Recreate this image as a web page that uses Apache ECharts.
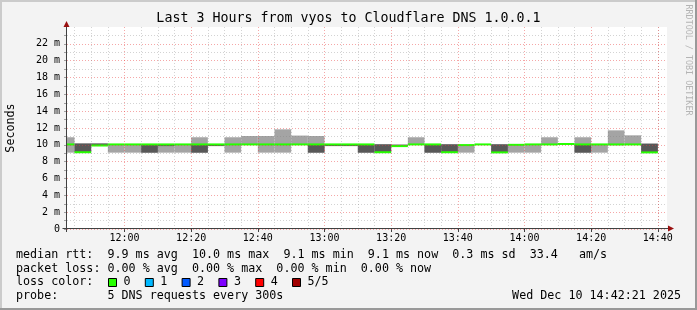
<!DOCTYPE html>
<html><head><meta charset="utf-8">
<script src="https://cdn.jsdelivr.net/npm/echarts@6/dist/echarts.min.js"></script>
<style>html,body{margin:0;padding:0;background:#f3f3f3}#c{width:697px;height:310px}</style>
</head><body><div id="c"></div>
<script>
// ---- data (5-minute bins, values in ms) ----
const binStarts = ['11:40','11:45','11:50','11:55','12:00','12:05','12:10','12:15','12:20','12:25','12:30','12:35',
  '12:40','12:45','12:50','12:55','13:00','13:05','13:10','13:15','13:20','13:25','13:30','13:35',
  '13:40','13:45','13:50','13:55','14:00','14:05','14:10','14:15','14:20','14:25','14:30','14:35'];
const smokeLow  = [9.07,9.12,9.92,9.07,9.07,9.07,9.07,9.07,9.07,9.97,9.07,10.0,9.07,9.07,10.0,9.07,9.95,9.95,
  9.07,9.12,9.85,10.0,9.07,9.12,9.07,null,9.1,9.07,9.07,10.0,null,9.07,9.07,9.94,10.0,9.1];
const smokeHigh = [10.9,10.2,10.16,10.05,10.05,10.05,10.05,10.05,10.9,10.05,10.9,11.05,11.05,11.84,11.1,11.05,10.05,10.05,
  10.05,10.1,10.02,10.9,10.05,10.1,10.0,null,10.1,9.97,9.97,10.9,null,10.9,10.0,11.72,11.13,10.2];
const coreLow   = [null,9.12,9.92,null,null,9.07,9.85,null,9.07,9.85,null,null,null,null,null,9.07,9.85,9.85,
  9.07,9.12,9.85,null,9.07,9.12,null,null,9.1,null,null,null,null,9.07,null,null,null,9.1];
const coreHigh  = [null,10.14,10.16,null,null,10.0,10.05,null,10.0,10.05,null,null,null,null,null,10.0,10.05,10.05,
  10.0,10.05,10.02,null,10.0,10.05,null,null,10.05,null,null,null,null,10.0,null,null,null,10.1];
const medianRtt = [10.05,9.12,9.92,10.05,10.05,10.05,10.05,10.05,10.05,10.05,10.05,10.05,10.05,10.05,10.05,10.05,10.05,10.05,
  10.05,9.12,9.85,10.05,10.05,9.12,9.97,10.05,9.1,10.0,10.05,10.05,10.1,10.05,10.05,10.05,10.05,9.1];
const binMinutes = 5;
const windowEnd = '14:42:45';
const windowHours = 3;
const xTickLabels = ['12:00','12:20','12:40','13:00','13:20','13:40','14:00','14:20','14:40'];
const xMinorLabels = ['11:45','11:50','11:55','12:05','12:10','12:15','12:25','12:30','12:35','12:45','12:50','12:55',
  '13:05','13:10','13:15','13:25','13:30','13:35','13:45','13:50','13:55','14:05','14:10','14:15','14:25','14:30','14:35','14:40'];
const yTickLabels = ['0','2 m','4 m','6 m','8 m','10 m','12 m','14 m','16 m','18 m','20 m','22 m'];
const lossLabels = ['0','1','2','3','4','5/5'];
const lossColors = ['#26ff00','#00b8ff','#0059ff','#7e00ff','#ff0000','#a00000'];
const legendLines = [
  'median rtt:  9.9 ms avg  10.0 ms max  9.1 ms min  9.1 ms now  0.3 ms sd  33.4   am/s',
  'packet loss: 0.00 % avg  0.00 % max  0.00 % min  0.00 % now',
  'loss color:',
  'probe:       5 DNS requests every 300s'
];
const titleText = 'Last 3 Hours from vyos to Cloudflare DNS 1.0.0.1';
const stampText = 'Wed Dec 10 14:42:21 2025';

// ---- helpers ----
const toMin = s => { const p = s.split(':').map(Number); return p[0]*60 + p[1] + (p[2]||0)/60; };
const fmt = v => { const h = Math.floor(v/60), m = Math.round(v - h*60); return String(h).padStart(2,'0')+':'+String(m).padStart(2,'0'); };
const xMax = toMin(windowEnd), xMin = xMax - windowHours*60;
const starts = binStarts.map(toMin);
const lightData = [], darkData = [], medData = [];
starts.forEach((t,i) => {
  if (smokeLow[i] != null) lightData.push([t, smokeLow[i], smokeHigh[i]]);
  if (coreLow[i] != null) darkData.push([t, coreLow[i], coreHigh[i]]);
  medData.push([t, medianRtt[i]]);
});
const MONO = 'DejaVu Sans Mono';

function bandRender(color) {
  return function(params, api) {
    const t = api.value(0), lo = api.value(1), hi = api.value(2);
    const a = api.coord([t, hi]), b = api.coord([t + binMinutes, lo]);
    const cs = params.coordSys;
    const shape = echarts.graphic.clipRectByRect({x:a[0], y:a[1], width:b[0]-a[0], height:Math.max(b[1]-a[1], 1)},
      {x:cs.x, y:cs.y, width:cs.width, height:cs.height});
    if (!shape) return;
    return {type:'rect', shape, style:{fill:color}};
  };
}
function medRender(params, api) {
  const t = api.value(0), v = api.value(1);
  const a = api.coord([t, v]), b = api.coord([t + binMinutes, v]);
  const cs = params.coordSys;
  const shape = echarts.graphic.clipRectByRect({x:a[0], y:a[1]-1, width:b[0]-a[0], height:2},
    {x:cs.x, y:cs.y, width:cs.width, height:cs.height});
  if (!shape) return;
  return {type:'rect', shape, style:{fill:lossColors[0]}};
}

const gridMinor = 'rgba(128,128,128,0.35)';
const gridMajor = 'rgba(233,59,59,0.45)';
const vLines = xMinorLabels.map(s => ({xAxis: toMin(s), lineStyle:{color:gridMinor, type:[1,2], width:1}}))
  .concat(xTickLabels.map(s => ({xAxis: toMin(s), lineStyle:{color:gridMajor, type:[1,2], width:1}})));

const chart = echarts.init(document.getElementById('c'), null, {renderer:'canvas'});
const graphics = [
  {type:'rect', shape:{x:0,y:0,width:697,height:2}, style:{fill:'#cbcbcb'}, silent:true},
  {type:'rect', shape:{x:0,y:0,width:2,height:310}, style:{fill:'#cbcbcb'}, silent:true},
  {type:'rect', shape:{x:0,y:308,width:697,height:2}, style:{fill:'#999999'}, silent:true},
  {type:'rect', shape:{x:695,y:0,width:2,height:310}, style:{fill:'#999999'}, silent:true},
  {type:'text', x:348.5, y:19, style:{text:titleText, font:'13.3px '+MONO, fill:'#000', align:'center', verticalAlign:'middle'}},
  {type:'text', x:11, y:128, rotation:Math.PI/2, style:{text:'Seconds', font:'11.7px '+MONO, fill:'#000', align:'center', verticalAlign:'middle'}},
  {type:'text', x:688, y:60, rotation:-Math.PI/2, style:{text:'RRDTOOL / TOBI OETIKER', font:'8.4px '+MONO, fill:'#b4b4b4', align:'center', verticalAlign:'middle'}},
  // axis lines + arrows
  {type:'line', shape:{x1:62.5,y1:228.5,x2:669,y2:228.5}, style:{stroke:'#404040', lineWidth:1}, z:20},
  {type:'line', shape:{x1:66.5,y1:232,x2:66.5,y2:25}, style:{stroke:'#404040', lineWidth:1}, z:20},
  {type:'polygon', shape:{points:[[674,228.5],[668,225.5],[668,231.5]]}, style:{fill:'#9a1010'}, z:21},
  {type:'polygon', shape:{points:[[66.5,21],[63.5,27],[69.5,27]]}, style:{fill:'#9a1010'}, z:21}
];
const lineY = [255, 268.5, 282.3, 296];
legendLines.forEach((s,i) => graphics.push({type:'text', x:16, y:lineY[i], style:{text:s, font:'11.7px '+MONO, fill:'#000', verticalAlign:'middle'}}));
graphics.push({type:'text', x:681, y:lineY[3], style:{text:stampText, font:'11.7px '+MONO, fill:'#000', align:'right', verticalAlign:'middle'}});
lossLabels.forEach((s,i) => {
  const bx = 108.5 + 36.8*i;
  graphics.push({type:'rect', shape:{x:bx, y:278.5, width:8, height:8}, style:{fill:lossColors[i], stroke:'#000', lineWidth:1}});
  graphics.push({type:'text', x:bx+15, y:lineY[2], style:{text:s, font:'11.7px '+MONO, fill:'#000', verticalAlign:'middle'}});
});

chart.setOption({
  animation:false,
  backgroundColor:'#f3f3f3',
  grid:{left:67, top:27, width:600, bottom:81, show:true, backgroundColor:'#ffffff', borderWidth:0},
  xAxis:{type:'value', min:xMin, max:xMax,
    axisLine:{show:false}, splitLine:{show:false},
    axisTick:{show:true, customValues:xTickLabels.map(toMin), length:3, lineStyle:{color:'#404040'}},
    axisLabel:{customValues:xTickLabels.map(toMin), formatter:v=>fmt(v), fontFamily:MONO, fontSize:10, color:'#000', margin:4}},
  yAxis:{type:'value', min:0, max:24, interval:1, z:4,
    axisLine:{show:false},
    axisTick:{show:true, length:3, lineStyle:{color:'#a0a0a0'}},
    axisLabel:{fontFamily:MONO, fontSize:10, color:'#000', margin:7, showMaxLabel:false,
      formatter:v => (v % 2 === 0 && v/2 < yTickLabels.length) ? yTickLabels[v/2] : ''},
    splitLine:{show:true, showMaxLine:false, lineStyle:{color:[gridMajor, gridMinor], type:[1,2], width:1}}},
  graphic:graphics,
  series:[
    {type:'custom', name:'smoke', data:lightData, renderItem:bandRender('#a4a4a4'), z:2, silent:true},
    {type:'custom', name:'smoke-core', data:darkData, renderItem:bandRender('#585858'), z:2, silent:true},
    {type:'custom', name:'median', data:medData, renderItem:medRender, z:3, silent:true},
    {type:'line', name:'vgrid', data:[], z:6, silent:true,
      markLine:{silent:true, symbol:['none','none'], label:{show:false}, animation:false, data:vLines}}
  ]
});
</script></body></html>
